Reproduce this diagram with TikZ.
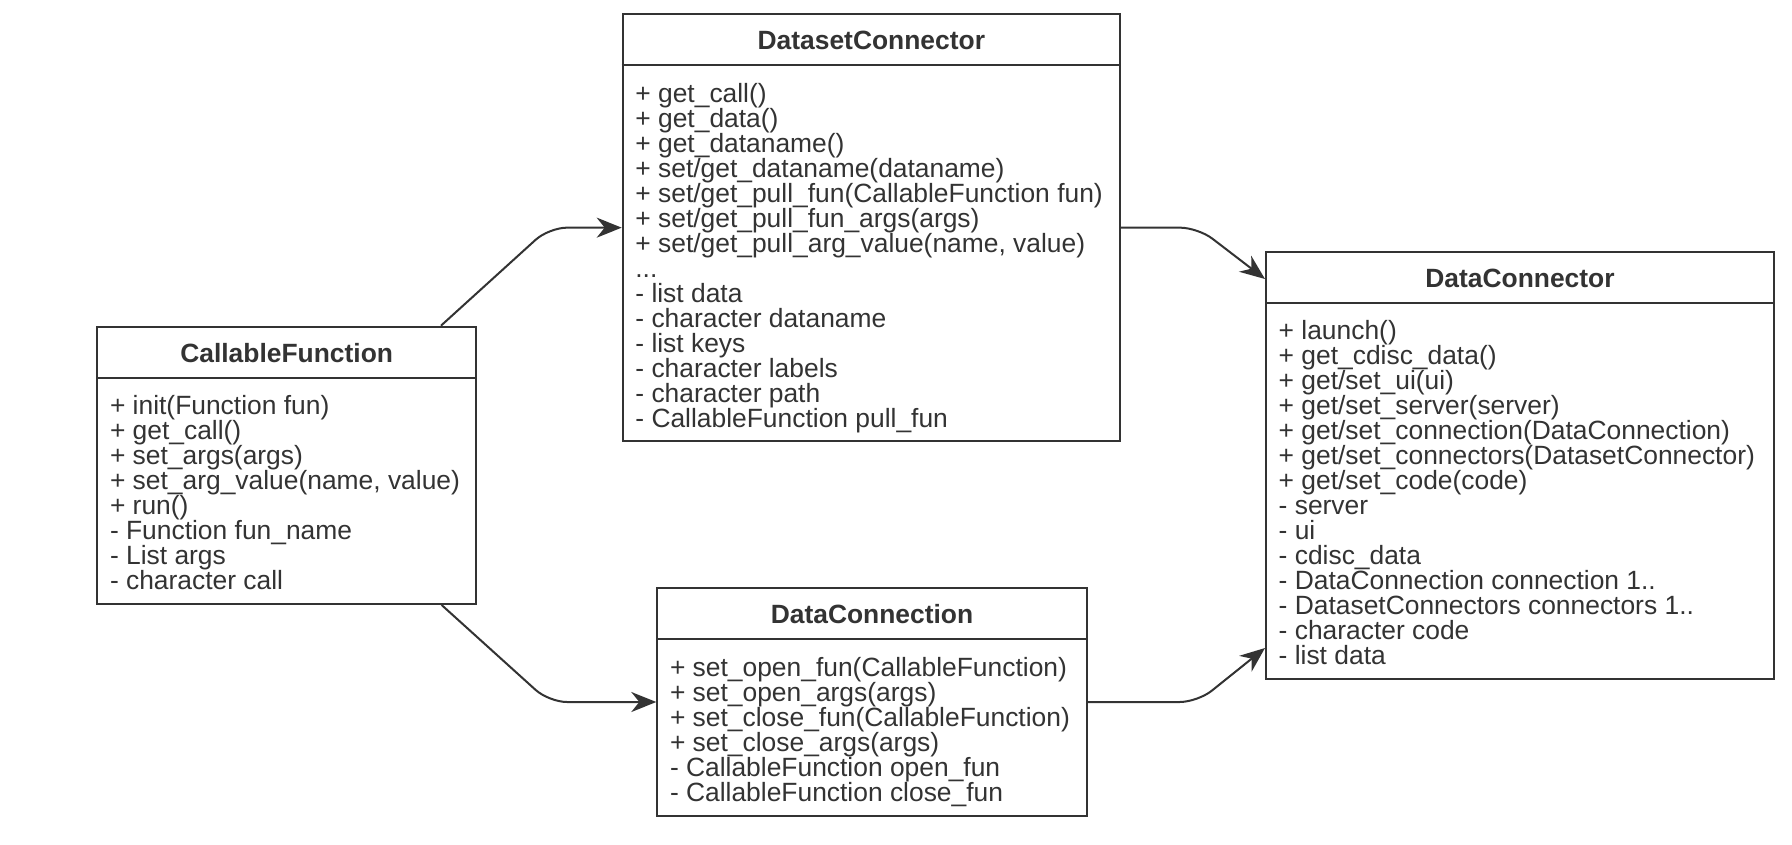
\documentclass[tikz,border=0pt]{standalone}
\usepackage{fontspec}
\setmainfont{Liberation Sans}
\usetikzlibrary{arrows.meta,calc}
\definecolor{ink}{HTML}{333333}
\begin{document}
\begin{tikzpicture}[x=1pt,y=-1pt,
  every node/.style={text=ink},
  classbox/.style={draw=ink, line width=2pt, fill=white, inner sep=0pt},
  classhead/.style={inner sep=0pt, font=\fontsize{26.4}{25}\bfseries, text height=19pt, text depth=0pt},
  classbody/.style={inner sep=0pt, anchor=base west, align=left, font=\fontsize{26.4}{25}\selectfont},
  divider/.style={draw=ink, line width=2pt},
  assoc/.style={draw=ink, line width=2pt, rounded corners=18pt, -{Stealth[length=25pt,width=20pt,inset=8pt]}}
]
\fill[white] (0,0) rectangle (1792,844);
\useasboundingbox (0,0) rectangle (1792,844);

% class boxes
\node[classbox, minimum width=378.7pt, minimum height=277.3pt] (cf) at (286.65,465.35) {};
\node[classbox, minimum width=497.3pt, minimum height=427.3pt] (dsc) at (871.35,227.65) {};
\node[classbox, minimum width=429.4pt, minimum height=228pt] (dcn) at (872,702) {};
\node[classbox, minimum width=508pt, minimum height=427.3pt] (dc) at (1520,465.65) {};

% headers
\foreach \b/\t in {cf/CallableFunction, dsc/DatasetConnector, dcn/DataConnection, dc/DataConnector}{
  \node[classhead] (\b h) at ($(\b.north)+(0,27)$) {\t};
  \draw[divider] ($(\b.north west)+(0,52)$) -- ($(\b.north east)+(0,52)$);
}

% members (placed by the baseline of the last line)
\node[classbody] (cfb) at ($(cf.south west)+(13.5,-15.3)$) {%
+ init(Function fun)\\
+ get\_call()\\
+ set\_args(args)\\
+ set\_arg\_value(name, value)\\
+ run()\\
- Function fun\_name\\
- List args\\
- character call};

\node[classbody] (dscb) at ($(dsc.south west)+(13.5,-15.3)$) {%
+ get\_call()\\
+ get\_data()\\
+ get\_dataname()\\
+ set/get\_dataname(dataname)\\
+ set/get\_pull\_fun(CallableFunction fun)\\
+ set/get\_pull\_fun\_args(args)\\
+ set/get\_pull\_arg\_value(name, value)\\
...\\
- list data\\
- character dataname\\
- list keys\\
- character labels\\
- character path\\
- CallableFunction pull\_fun};

\node[classbody] (dcnb) at ($(dcn.south west)+(13.5,-16)$) {%
+ set\_open\_fun(CallableFunction)\\
+ set\_open\_args(args)\\
+ set\_close\_fun(CallableFunction)\\
+ set\_close\_args(args)\\
- CallableFunction open\_fun\\
- CallableFunction close\_fun};

\node[classbody] (dcb) at ($(dc.south west)+(13.5,-16)$) {%
+ launch()\\
+ get\_cdisc\_data()\\
+ get/set\_ui(ui)\\
+ get/set\_server(server)\\
+ get/set\_connection(DataConnection)\\
+ get/set\_connectors(DatasetConnector)\\
+ get/set\_code(code)\\
- server\\
- ui\\
- cdisc\_data\\
- DataConnection connection 1..\\
- DatasetConnectors connectors 1..\\
- character code\\
- list data};

% associations
\draw[assoc] ([xshift=154.3pt]cf.north) -- ($(dsc.west)+(-72.7,0)$) -- (dsc.west);
\draw[assoc] ([xshift=155pt]cf.south) -- ($(dcn.west)+(-107.3,0)$) -- (dcn.west);
\draw[assoc] (dsc.east) -- ($(dsc.east)+(77,0)$) -- ($(dc.north west)+(0,28)$);
\draw[assoc] (dcn.east) -- ($(dcn.east)+(110,0)$) -- ($(dc.north west)+(0,397)$);
\end{tikzpicture}
\end{document}
